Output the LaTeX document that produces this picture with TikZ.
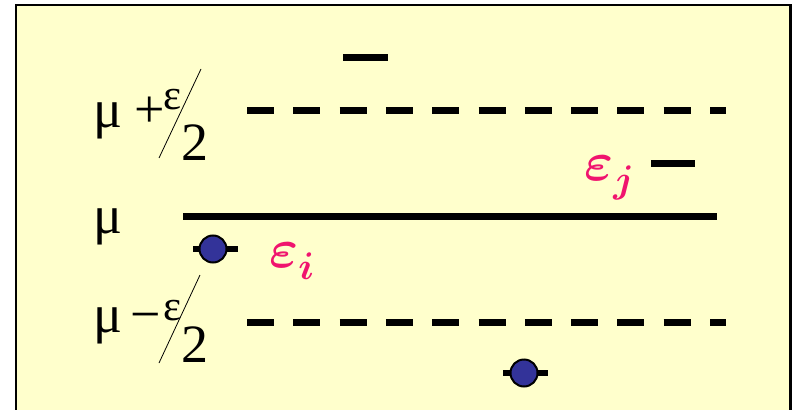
\RequirePackage{fix-cm}
\documentclass[tikz,border=0pt]{standalone}
\usepackage{fontspec}
\setmainfont{Liberation Serif}

\definecolor{paper}{HTML}{FFFFCC}
\definecolor{epscol}{HTML}{F0146E}
\definecolor{dotblue}{HTML}{333399}

\newcommand{\lowsub}[1]{\lower4pt\hbox{$\scriptstyle #1$}}

\tikzset{
  frame/.style={draw=black, line width=2.5pt, fill=paper},
  solidlevel/.style={line width=7pt},
  dashlevel/.style={line width=7pt, dash pattern=on 27pt off 19.3pt},
  stub/.style={line width=7pt},
  bar/.style={line width=6pt},
  particle/.style={circle, fill=dotblue, draw=black, line width=2pt,
    minimum size=27pt, inner sep=0pt},
  sym/.style={inner sep=0pt, anchor=base west, font=\fontsize{54}{60}\selectfont},
  symsmall/.style={inner sep=0pt, anchor=base west, font=\fontsize{43}{46}\selectfont},
  eps/.style={inner sep=0pt, anchor=base west, text=epscol,
    font=\fontsize{55}{58}\selectfont\boldmath},
  frac/.style={line width=0.8pt}
}

\begin{document}
\begin{tikzpicture}[x=1pt, y=-1pt]
  \useasboundingbox (0,0) rectangle (799,409);
  \begin{scope}
    \clip (0,0) rectangle (799,409);
    \draw[frame] (16,5) rectangle (790.5,420);
  \end{scope}

  % energy levels
  \draw[stub] (343,58) -- (388,58);
  \draw[dashlevel] (247,110.5) -- (726,110.5);
  \draw[stub] (651,163.5) -- (695,163.5);
  \draw[solidlevel] (183,216) -- (717,216);
  \draw[dashlevel] (247,322) -- (726,322);

  % occupied states
  \draw[bar] (193,249) -- (238,249);
  \node[particle] (p1) at (213,249) {};
  \draw[bar] (503,373) -- (548,373);
  \node[particle] (p2) at (524,373) {};

  % energy labels
  \node[eps] (ei) at (269,267) {$\varepsilon_{\lowsub{i}}$};
  \node[eps] (ej) at (584,180) {$\varepsilon_{\lowsub{j}}$};

  % level names: mu + eps/2
  \node[sym] (muA) at (93,128) {μ};
  \node[sym] (plusA) at (134,128) {+};
  \node[symsmall] (epsA) at (163,110) {ε};
  \node[sym] (twoA) at (181,160) {2};
  \draw[frac] (159,158) -- (201,69);

  % mu
  \node[sym] (muB) at (93,233) {μ};

  % mu - eps/2
  \node[sym] (muC) at (93,332) {μ};
  \node[sym] (minusC) at (130,332) {−};
  \node[symsmall] (epsC) at (163,320) {ε};
  \node[sym] (twoC) at (181,362) {2};
  \draw[frac] (159,363) -- (200,275);
\end{tikzpicture}
\end{document}
